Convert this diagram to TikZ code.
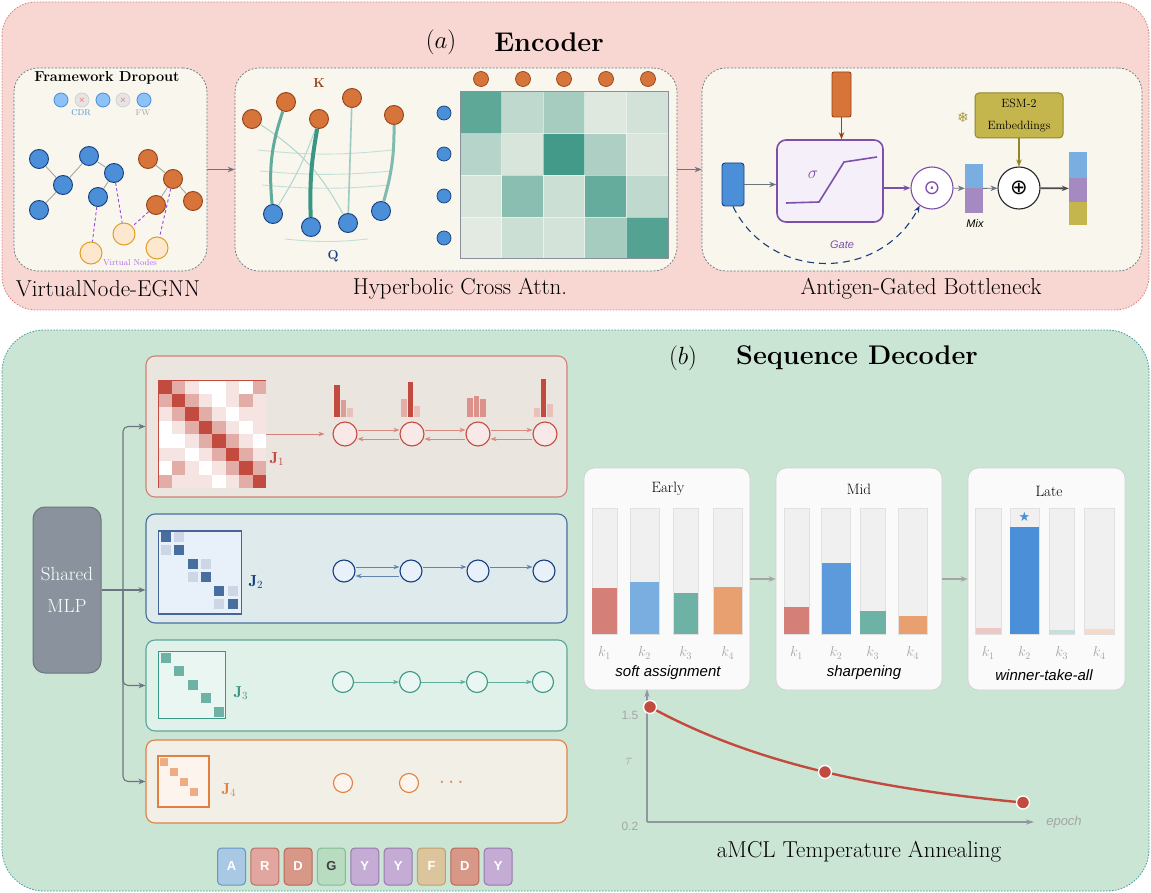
\documentclass[tikz,border=0pt]{standalone}
\usepackage{amsmath,amssymb}
\usepackage{fontspec}
\newfontfamily\helv{Liberation Sans}
\newfontfamily\djv{DejaVu Sans}
\usetikzlibrary{arrows.meta,positioning,calc}
\definecolor{rosa}{RGB}{248,214,210}
\definecolor{rosal}{RGB}{214,126,122}
\definecolor{menta}{RGB}{203,229,213}
\definecolor{mental}{RGB}{66,154,156}
\definecolor{crema}{RGB}{248,246,237}
\definecolor{gris}{RGB}{108,116,128}
\definecolor{grisc}{RGB}{165,165,165}
\definecolor{celeste}{RGB}{74,143,216}
\definecolor{celestec}{RGB}{142,193,245}
\definecolor{marino}{RGB}{24,62,126}
\definecolor{cobre}{RGB}{214,116,58}
\definecolor{cobreos}{RGB}{148,66,24}
\definecolor{ambar}{RGB}{226,158,36}
\definecolor{ambarc}{RGB}{253,231,206}
\definecolor{violeta}{RGB}{150,70,230}
\definecolor{turq}{RGB}{58,150,132}
\definecolor{lila}{RGB}{124,80,168}
\definecolor{lilac}{RGB}{244,239,249}
\definecolor{malva}{RGB}{164,138,192}
\definecolor{cielo}{RGB}{122,174,224}
\definecolor{oliva}{RGB}{196,181,76}
\definecolor{olivaos}{RGB}{148,134,40}
\definecolor{carmin}{RGB}{194,74,62}
\definecolor{pizarra}{RGB}{72,110,160}
\definecolor{jade}{RGB}{60,152,134}
\definecolor{mandar}{RGB}{226,128,66}
\definecolor{pizarrin}{RGB}{138,147,157}
\definecolor{chA}{RGB}{168,200,228}\definecolor{chAb}{RGB}{100,150,200}
\definecolor{chR}{RGB}{226,166,160}\definecolor{chRb}{RGB}{190,110,100}
\definecolor{chD}{RGB}{216,152,136}\definecolor{chDb}{RGB}{184,104,88}
\definecolor{chG}{RGB}{184,220,192}\definecolor{chGb}{RGB}{136,184,152}
\definecolor{chY}{RGB}{196,172,212}\definecolor{chYb}{RGB}{150,120,176}
\definecolor{chF}{RGB}{220,196,156}\definecolor{chFb}{RGB}{192,160,112}
\tikzset{
  panel/.style={rounded corners=#1, line width=0.8pt, dash pattern=on 1.5pt off 1.5pt},
  sub/.style={draw=gris, fill=crema, rounded corners=24pt, line width=0.7pt, dash pattern=on 2pt off 1.6pt, inner sep=0pt},
  titulo/.style={font=\fontsize{27}{32}\selectfont\bfseries},
  rotulo/.style={font=\fontsize{23}{27}\selectfont},
  fl/.style={-{Stealth[length=7pt,width=5.5pt]}, line width=1.1pt, gris},
  gaz/.style={circle, draw=marino, fill=celeste, line width=0.9pt, inner sep=0pt, minimum size=19pt},
  gna/.style={circle, draw=cobreos, fill=cobre, line width=0.9pt, inner sep=0pt, minimum size=19pt},
  gvi/.style={circle, draw=ambar, fill=ambarc, line width=1pt, inner sep=0pt, minimum size=22pt},
  pz/.style={circle, draw=marino, fill=celeste, line width=0.7pt, inner sep=0pt, minimum size=14pt},
  pn/.style={circle, draw=cobreos, fill=cobre, line width=0.7pt, inner sep=0pt, minimum size=15pt},
  vl/.style={violeta, line width=0.9pt, dash pattern=on 3pt off 2.5pt},
  fila/.style={rounded corners=9pt, line width=1.1pt, inner sep=0pt, minimum width=421pt},
  est/.style={circle, inner sep=0pt, line width=1.1pt},
  fr/.style={-{Stealth[length=6pt,width=4.5pt]}, line width=0.8pt},
  jl/.style={font=\fontsize{16}{18}\selectfont},
  chip/.style={rounded corners=4pt, minimum width=28pt, minimum height=37pt, inner sep=0pt, line width=1pt, font=\helv\bfseries\fontsize{13}{15}\selectfont},
  caja/.style={draw=black!18, fill=black!2, rounded corners=10pt, line width=0.8pt, minimum height=222pt, inner sep=0pt},
  pista/.style={fill=black!6, draw=black!12, line width=0.6pt},
  kl/.style={text=grisc, font=\fontsize{14}{16}\selectfont},
  it/.style={font=\helv\itshape\fontsize{15}{18}\selectfont},
  punto/.style={circle, fill=carmin, draw=white, line width=1.3pt, inner sep=0pt, minimum size=13pt},
  eje/.style={-{Stealth[length=8pt,width=5pt]}, line width=1.3pt, gris!75},
}
\begin{document}
\begin{tikzpicture}[x=1pt, y=-1pt]
\useasboundingbox (0,0) rectangle (1151,893);
\fill[white] (0,0) rectangle (1151,893);

% (a) encoder
\draw[panel=34pt, draw=rosal, fill=rosa] (2,2) rectangle (1149,310);
\node[titulo] (ta) at (441,42) {$(a)$};
\node[titulo] (tenc) at (549,42) {Encoder};
\node[sub, minimum width=193pt, minimum height=203pt] (gnn) at (110.5,169.5) {};
\node[sub, minimum width=442pt, minimum height=203pt] (att) at (456,169.5) {};
\node[sub, minimum width=440pt, minimum height=203pt] (gat) at (922,169.5) {};
\draw[fl] (gnn.east) -- (att.west);
\draw[fl] (att.east) -- (gat.west);
\node[rotulo] (lg) at (108,289) {VirtualNode-EGNN};
\node[rotulo] (la) at (460,289) {Hyperbolic Cross Attn.};
\node[rotulo] (lb) at (921,289) {Antigen-Gated Bottleneck};

% virtual node egnn
\node[font=\fontsize{14.5}{17}\selectfont\bfseries] (fd) at (107,78) {Framework Dropout};
\foreach \x/\k [count=\i] in {61/0,82/1,103/0,123/1,144/0}{
  \ifnum\k=0
    \node[circle, draw=celeste, fill=celestec, line width=0.8pt, inner sep=0pt, minimum size=14pt] (d\i) at (\x,100) {};
  \else
    \node[circle, draw=black!20, fill=black!10, line width=0.6pt, inner sep=0pt, minimum size=14pt, text=red!80, font=\fontsize{9}{10}\selectfont] (d\i) at (\x,100) {$\times$};
  \fi}
\node[text=celeste, font=\fontsize{8.5}{10}\selectfont] (cdr) at (81,113) {CDR};
\node[text=grisc, font=\fontsize{8.5}{10}\selectfont] (fw) at (143,113) {FW};
\node[gaz] (b1) at (39,159) {};
\node[gaz] (b2) at (63,185) {};
\node[gaz] (b3) at (89,156) {};
\node[gaz] (b4) at (114,173) {};
\node[gaz] (b5) at (98,197) {};
\node[gaz] (b6) at (39,210) {};
\node[gna] (o1) at (148,159) {};
\node[gna] (o2) at (173,179) {};
\node[gna] (o3) at (193,201) {};
\node[gna] (o4) at (156,205) {};
\node[gvi] (v1) at (91,253) {};
\node[gvi] (v2) at (124,234) {};
\node[gvi] (v3) at (157,248) {};
\draw[black!35, line width=0.9pt] (b1)--(b2) (b2)--(b3) (b2)--(b6) (b3)--(b4) (b4)--(b5)
  (o1)--(o2) (o2)--(o3) (o2)--(o4);
\draw[vl] (b5)--(v1) (b4)--(v2) (o4)--(v2) (o2)--(v3);
\node[text=violeta!80, font=\fontsize{8.5}{10}\selectfont] (lvn) at (130,263) {Virtual Nodes};

% hyperbolic cross attention
\draw[turq!30, line width=0.9pt] (258,150) to[bend right=6] (392,150);
\draw[turq!30, line width=0.9pt] (260,171) to[bend right=5] (392,171);
\draw[turq!30, line width=0.9pt] (262,185) to[bend right=5] (390,185);
\draw[turq!30, line width=0.9pt] (285,239) to[bend right=6] (368,239);
\node[font=\fontsize{13}{15}\selectfont\bfseries, text=cobreos] (kk) at (319,83) {K};
\node[font=\fontsize{13}{15}\selectfont\bfseries, text=marino] (qq) at (333,256) {Q};
\node[gna] (k1) at (252,119) {};
\node[gna] (k2) at (286,102) {};
\node[gna] (k3) at (319,119) {};
\node[gna] (k4) at (352,98) {};
\node[gna] (k5) at (394,115) {};
\node[gaz] (q1) at (273,214) {};
\node[gaz] (q2) at (311,227) {};
\node[gaz] (q3) at (348,223) {};
\node[gaz] (q4) at (381,211) {};
\draw[turq!40, line width=1pt] (k1) to[bend left=14] (q3);
\draw[turq!40, line width=1pt] (k3) to[bend left=6] (q1);
\draw[turq!50, line width=1.6pt] (k4) to (q3);
\draw[turq!80, line width=3pt] (k2) to[bend right=12] (q1);
\draw[turq, line width=4pt] (k3) to[bend right=6] (q2);
\draw[turq!65, line width=3pt] (k5) to[bend left=8] (q4);
\fill[turq!6!crema] (460,92) rectangle (668,259);
\foreach \row [count=\r from 0] in {{.8,.25,.4,.08,.15},{.3,.12,.95,.35,.1},{.12,.55,.18,.75,.25},{.06,.18,.14,.4,.85}}
  \foreach \v [count=\c from 0] in \row
    \fill[turq, fill opacity=\v] (460+41.6*\c,92+41.75*\r) rectangle ++(41.6,41.75);
\foreach \i in {1,...,4} \draw[white, opacity=.5, line width=0.8pt] (460+41.6*\i,92) -- ++(0,167);
\foreach \i in {1,...,3} \draw[white, opacity=.5, line width=0.8pt] (460,92+41.75*\i) -- ++(208,0);
\draw[gris!80, line width=1pt] (460,92) rectangle (668,259);
\foreach \x [count=\i] in {481,523,564,606,648} \node[pn] (t\i) at (\x,79) {};
\foreach \y [count=\i] in {113,154,196,238} \node[pz] (l\i) at (444,\y) {};

% antigen gated bottleneck
\node[draw=marino, fill=celeste, rounded corners=3pt, line width=0.9pt, minimum width=22pt, minimum height=43pt, inner sep=0pt] (inp) at (733,184.5) {};
\node[draw=cobreos, fill=cobre, rounded corners=2pt, line width=0.9pt, minimum width=19pt, minimum height=45pt, inner sep=0pt] (ag) at (841.5,94.5) {};
\node[draw=lila, fill=lilac, rounded corners=9pt, line width=1.6pt, minimum width=106pt, minimum height=82pt, inner sep=0pt] (sig) at (830,181) {};
\node[text=lila, font=\fontsize{17}{20}\selectfont] (sg) at (813,175) {$\sigma$};
\draw[lila, line width=1.6pt] (786,203) -- (819,202) -- (844,162) -- (877,157);
\node[circle, draw=lila, fill=white, line width=1.1pt, minimum size=42pt, inner sep=0pt, text=lila, font=\djv\fontsize{20}{22}\selectfont] (had) at (932,188) {⊙};
\fill[cielo] (965,164) rectangle (983,188.5);
\fill[malva] (965,188.5) rectangle (983,213);
\node[minimum width=18pt, minimum height=49pt, inner sep=0pt] (mix) at (974,188.5) {};
\node[font=\helv\itshape\fontsize{11}{13}\selectfont] (lmix) at (975,224) {Mix};
\node[circle, draw=black!85, fill=white, line width=1.1pt, minimum size=42pt, inner sep=0pt, font=\djv\fontsize{21}{23}\selectfont] (sum) at (1019,188) {⊕};
\node[draw=olivaos, fill=oliva, rounded corners=4pt, line width=1pt, minimum width=88pt, minimum height=45pt, align=center, font=\fontsize{12}{22}\selectfont] (esm) at (1019,115.5) {ESM-2\\Embeddings};
\node[text=oliva!85!black, font=\djv\fontsize{14}{16}\selectfont] (fro) at (963,117) {❄};
\fill[cielo] (1069,152) rectangle (1087,178);
\fill[malva] (1069,178) rectangle (1087,202);
\fill[oliva] (1069,202) rectangle (1087,225);
\node[minimum width=18pt, minimum height=73pt, inner sep=0pt] (out) at (1078,188.5) {};
\draw[fl] (inp.east) -- (inp.east -| sig.west);
\draw[fl, cobreos] (ag) -- (ag |- sig.north);
\draw[fl, lila] (sig.east |- had) -- (had);
\draw[fl, line width=0.8pt] (had) -- (mix);
\draw[fl, line width=0.8pt] (mix) -- (sum);
\draw[fl, olivaos] (esm) -- (sum);
\draw[fl, black!70, line width=1.8pt] (sum) -- (out);
\draw[marino, line width=1.1pt, dash pattern=on 7pt off 5pt, -{Stealth[length=7pt]}] (inp.south) .. controls (770,282) and (880,282) .. (had.235);
\node[text=lila, font=\helv\itshape\fontsize{11}{13}\selectfont] (lgate) at (842,245) {Gate};

% (b) sequence decoder
\draw[panel=42pt, draw=mental, fill=menta] (2,330) rectangle (1149,891);
\node[titulo] (tb) at (683,358) {$(b)$};
\node[titulo] (tdec) at (857,358) {Sequence Decoder};
\node[draw=gris, fill=pizarrin, rounded corners=12pt, line width=1pt, minimum width=68pt, minimum height=166pt, align=center, text=white, font=\fontsize{19}{32}\selectfont] (mlp) at (67,590) {Shared\\MLP};
\node[fila, fill={rgb,255:red,235;green,229;blue,223}, draw=carmin!70, minimum height=141pt] (r1) at (356.5,426.5) {};
\node[fila, fill={rgb,255:red,222;green,234;blue,236}, draw=pizarra, minimum height=109pt] (r2) at (356.5,568.5) {};
\node[fila, fill={rgb,255:red,224;green,241;blue,234}, draw=jade!85, minimum height=91pt] (r3) at (356.5,685.5) {};
\node[fila, fill={rgb,255:red,241;green,239;blue,230}, draw=mandar, minimum height=83pt] (r4) at (356.5,781.5) {};
\coordinate (br) at (123,590);
\draw[gris, line width=1.2pt] (mlp.east) -- (br);
\draw[fl, rounded corners=5pt] (br) |- (r1.west);
\draw[fl] (br) -- (br -| r2.west);
\draw[fl, rounded corners=5pt] (br) |- (r3.west);
\draw[fl, rounded corners=5pt] (br) |- (r4.west);

% J1
\fill[white] (158,380) rectangle (266,488);
\foreach \row [count=\r from 0] in {{1,.45,.15,0,0,.15,0,.45},{.45,1,.45,.15,0,.15,.45,.15},{.15,.45,1,.45,.15,0,.15,.15},{0,.15,.45,1,.45,.15,0,.15},{0,0,.15,.45,1,.45,.15,0},{.15,.15,0,.15,.45,1,.45,.15},{0,.45,.15,0,.15,.45,1,.45},{.45,.15,.15,.15,0,.15,.45,1}}
  \foreach \v [count=\c from 0] in \row
    \fill[carmin, fill opacity=\v] (158+13.5*\c,380+13.5*\r) rectangle ++(13.5,13.5);
\draw[carmin, line width=1pt] (158,488) -- (158,380) -- (266,380);
\node[inner sep=0pt, minimum size=108pt] (m1) at (212,434) {};
\node[jl, text=carmin] (j1) at (277,459) {$\mathbf{J}_1$};
\foreach \x [count=\i] in {345,412,478,545} \node[est, fill=carmin!12, draw=carmin, minimum size=24pt] (a\i) at (\x,434) {};
\draw[fr, carmin!70, shorten >=8pt] (m1.east) -- (a1.west);
\foreach \i/\j in {1/2,2/3,3/4}{
  \draw[fr, carmin!65] ([yshift=4pt]a\i.east) -- ([yshift=4pt]a\j.west);
  \draw[fr, carmin!65] ([yshift=-5pt]a\j.west) -- ([yshift=-5pt]a\i.east);}
\foreach \x/\h/\c in {334/385/carmin, 340.5/400/carmin!55, 347/408/carmin!35,
  401/399/carmin!45, 407.5/382/carmin, 414/406/carmin!35,
  467/398/carmin!60, 473.5/396/carmin!60, 480/399/carmin!60,
  534/408/carmin!35, 540.5/379/carmin, 547/404/carmin!35}
  \fill[\c] (\x,\h) rectangle (\x+5.5,417);

% J2
\node[draw=marino!80, fill={rgb,255:red,232;green,240;blue,250}, line width=1.2pt, minimum size=83pt, inner sep=0pt] (m2) at (200,572.5) {};
\foreach \c/\r in {1/0,0/1,3/2,2/3,5/4,4/5} \fill[pizarra!28] (161+13.3*\c,532+13.4*\r) rectangle ++(10,10);
\foreach \i in {0,...,5} \fill[pizarra] (161+13.3*\i,532+13.4*\i) rectangle ++(10,10);
\node[jl, text=marino] (j2) at (256,582) {$\mathbf{J}_2$};
\foreach \x [count=\i] in {344,411,478,544} \node[est, fill={rgb,255:red,232;green,240;blue,250}, draw=marino, minimum size=22pt] (e\i) at (\x,571) {};
\draw[fr, pizarra!85] ([yshift=4pt]e1.east) -- ([yshift=4pt]e2.west);
\draw[fr, pizarra!85] ([yshift=-5pt]e2.west) -- ([yshift=-5pt]e1.east);
\draw[fr, pizarra!85] ([yshift=4pt]e2.east) -- ([yshift=4pt]e3.west);
\draw[fr, pizarra!85] ([yshift=4pt]e3.east) -- ([yshift=4pt]e4.west);

% J3
\node[draw=jade, fill={rgb,255:red,234;green,246;blue,242}, line width=1.1pt, minimum size=67pt, inner sep=0pt] (m3) at (192,685) {};
\foreach \i in {0,...,4} \fill[jade!75] (161+13.3*\i,653+13.4*\i) rectangle ++(10,10);
\node[jl, text=jade] (j3) at (241,693) {$\mathbf{J}_3$};
\foreach \x [count=\i] in {343,410,477,543} \node[est, fill={rgb,255:red,234;green,246;blue,242}, draw=jade, minimum size=21pt] (g\i) at (\x,682) {};
\foreach \i/\j in {1/2,2/3,3/4} \draw[fr, jade!80] (g\i) -- (g\j);

% J4
\node[draw=mandar, fill={rgb,255:red,253;green,244;blue,238}, line width=1.1pt, minimum size=51pt, inner sep=0pt] (m4) at (183.5,781.5) {};
\foreach \i in {0,...,3} \fill[mandar!65] (160+10*\i,758+10*\i) rectangle ++(8,8);
\node[jl, text=mandar] (j4) at (229,790) {$\mathbf{J}_4$};
\node[est, fill={rgb,255:red,253;green,244;blue,238}, draw=mandar, minimum size=19pt] (h1) at (343,783) {};
\node[est, fill={rgb,255:red,253;green,244;blue,238}, draw=mandar, minimum size=19pt] (h2) at (409,783) {};
\node[text=mandar, font=\fontsize{22}{24}\selectfont] (dots) at (453,783) {$\cdots$};

% residues
\foreach \l/\f/\b/\c [count=\i from 0] in {A/chA/chAb/white,R/chR/chRb/white,D/chD/chDb/white,G/chG/chGb/black!75,Y/chY/chYb/white,Y/chY/chYb/white,F/chF/chFb/white,D/chD/chDb/white,Y/chY/chYb/white}
  \node[chip, fill=\f, draw=\b, text=\c] (s\i) at (231.5+33.33*\i,866.5) {\l};

% amcl stages
\node[caja, minimum width=166pt] (pe) at (667,579) {};
\node[caja, minimum width=166pt] (pm) at (859,579) {};
\node[caja, minimum width=157pt] (pl) at (1046.5,579) {};
\draw[fl, grisc, line width=1.3pt] (pe) -- (pm);
\draw[fl, grisc, line width=1.3pt] (pm) -- (pl);
\node[font=\fontsize{15}{18}\selectfont] (te) at (668,489) {Early};
\node[font=\fontsize{15}{18}\selectfont] (tm) at (859,489) {Mid};
\node[font=\fontsize{15}{18}\selectfont] (tl) at (1049,491) {Late};
\foreach \x/\w/\h/\c [count=\i] in {592/25/588/carmin!70, 630/29/582/cielo, 673.5/24.5/593/jade!75, 713.5/28.5/587/mandar!75}{
  \filldraw[pista] (\x,508) rectangle ++(\w,126);
  \fill[\c] (\x,\h) rectangle (\x+\w,634);
  \node[kl] (ke\i) at (\x+\w/2,653) {$k_{\i}$};}
\foreach \x/\w/\h/\c [count=\i] in {784/25/607/carmin!70, 821.5/29/563/celeste!90, 860/25.5/611/jade!75, 898.5/28.5/616/mandar!75}{
  \filldraw[pista] (\x,508) rectangle ++(\w,126);
  \fill[\c] (\x,\h) rectangle (\x+\w,634);
  \node[kl] (km\i) at (\x+\w/2,653) {$k_{\i}$};}
\foreach \x/\w/\h/\c [count=\i] in {975.6/25.4/628/carmin!30, 1010/29/527/celeste, 1049/25.5/630/jade!30, 1084.7/29.1/629/mandar!30}{
  \filldraw[pista] (\x,508) rectangle ++(\w,126);
  \fill[\c] (\x,\h) rectangle (\x+\w,634);
  \node[kl] (kt\i) at (\x+\w/2,653) {$k_{\i}$};}
\node[text=celeste, font=\djv\fontsize{13}{15}\selectfont] (win) at (1024.5,517) {★};
\node[it] (ls) at (668,673) {soft assignment};
\node[it] (lsh) at (864,673) {sharpening};
\node[it] (lw) at (1044,675) {winner-take-all};

% temperature
\coordinate (o) at (647,822);
\coordinate (ytop) at (647,689);
\coordinate (xend) at (1034,822);
\draw[eje] (o) -- (ytop);
\draw[eje] (o) -- (xend);
\node[text=grisc, font=\helv\fontsize{12}{14}\selectfont] (y15) at (630,715) {1.5};
\node[text=grisc, font=\helv\fontsize{12}{14}\selectfont] (y02) at (630,826) {0.2};
\node[text=grisc, font=\fontsize{14}{16}\selectfont] (tau) at (629,761) {$\tau$};
\node[text=grisc, font=\helv\itshape\fontsize{13}{15}\selectfont] (ep) at (1064,822) {epoch};
\draw[carmin, line width=2.4pt] plot[domain=650:1023, samples=50, smooth] (\x,{822-115*exp(-0.00476*(\x-650))});
\node[punto] (p1) at (650,707) {};
\node[punto] (p2) at (825,772) {};
\node[punto] (p3) at (1023,802.5) {};
\node[rotulo] (lt) at (859,852) {aMCL Temperature Annealing};
\end{tikzpicture}
\end{document}
